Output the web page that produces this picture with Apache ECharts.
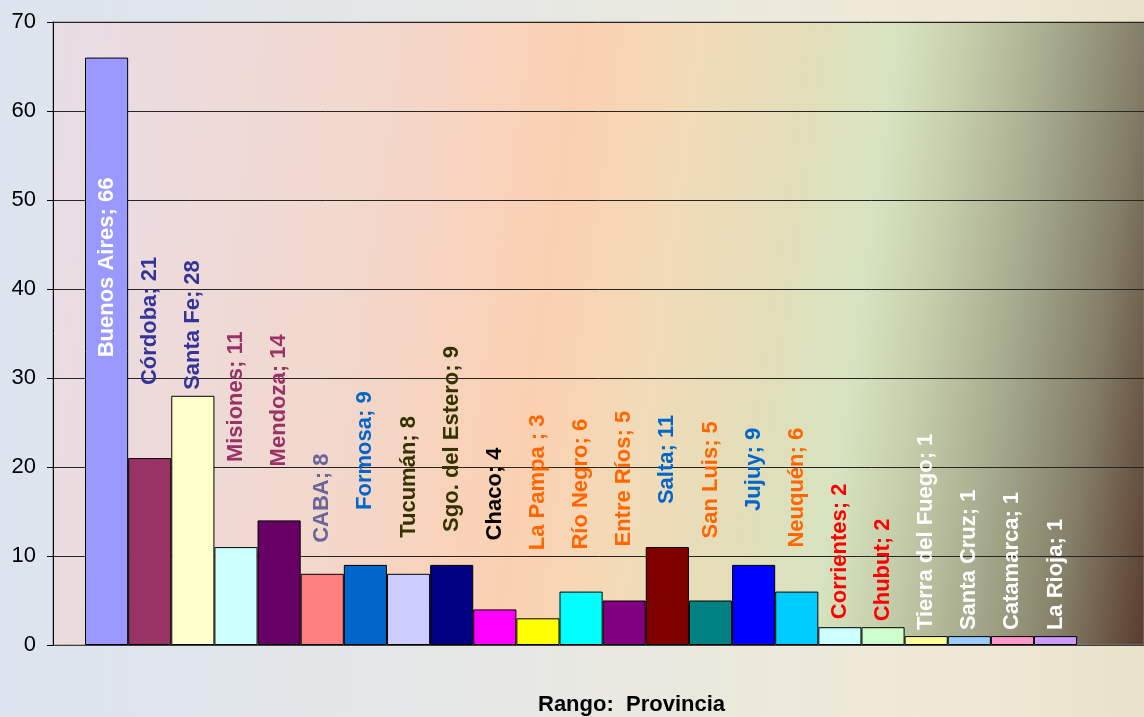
<!DOCTYPE html>
<html>
<head>
<meta charset="utf-8">
<script src="https://cdn.jsdelivr.net/npm/echarts@6/dist/echarts.min.js"></script>
<style>
  html, body { margin: 0; padding: 0; }
  #chart {
    width: 1144px; height: 717px;
    background: linear-gradient(to right, #dde4ef 0%, #e5e7e6 40%, #ece9dc 65%, #efe8d5 85%, #e9e1c9 100%);
  }
</style>
</head>
<body>
<div id="chart"></div>
<script>
// ---- data ----
const provinces = ['Buenos Aires', 'Córdoba', 'Santa Fe', 'Misiones', 'Mendoza', 'CABA', 'Formosa', 'Tucumán',
  'Sgo. del Estero', 'Chaco', 'La Pampa ', 'Río Negro', 'Entre Ríos', 'Salta', 'San Luis', 'Jujuy', 'Neuquén',
  'Corrientes', 'Chubut', 'Tierra del Fuego', 'Santa Cruz', 'Catamarca', 'La Rioja'];
const counts = [66, 21, 28, 11, 14, 8, 9, 8, 9, 4, 3, 6, 5, 11, 5, 9, 6, 2, 2, 1, 1, 1, 1];
const axisTitle = 'Rango:  Provincia';

// ---- styles / layout ----
const barColors = ['#9999FF', '#993366', '#FFFFCC', '#CCFFFF', '#660066', '#FF8080', '#0066CC', '#CCCCFF',
  '#000080', '#FF00FF', '#FFFF00', '#00FFFF', '#800080', '#800000', '#008080', '#0000FF', '#00CCFF',
  '#CCFFFF', '#CCFFCC', '#FFFF99', '#99CCFF', '#FF99CC', '#CC99FF'];
const labelColors = ['#FFFFFF', '#333399', '#333399', '#993366', '#993366', '#666699', '#0066CC', '#333300',
  '#333300', '#000000', '#FF6600', '#FF6600', '#FF6600', '#0066CC', '#FF6600', '#0066CC', '#FF6600',
  '#FF0000', '#FF0000', '#FFFFFF', '#FFFFFF', '#FFFFFF', '#FFFFFF'];
// gap (px) between bar top and label start (first label sits inside its bar)
const labelGaps = [120, 73, 6, 85, 54, 31, 55, 36, 33, 69, 68, 42, 54, 43, 62, 54, 44, 8, 6, 6, 6, 6, 6];

const FONT = 'Liberation Sans, Arial, sans-serif';
const chart = echarts.init(document.getElementById('chart'));

const plotGradient = new echarts.graphic.LinearGradient(53, 22, 1209, 184, [
  { offset: 0, color: '#e8dde6' },
  { offset: 0.294, color: '#f3d7cb' },
  { offset: 0.451, color: '#fbd0b1' },
  { offset: 0.548, color: '#f2dbb8' },
  { offset: 0.633, color: '#e4ddb8' },
  { offset: 0.718, color: '#d7e3c0' },
  { offset: 0.769, color: '#c8d1ae' },
  { offset: 0.845, color: '#a9ad8f' },
  { offset: 0.925, color: '#847f68' },
  { offset: 1, color: '#5a3b2f' }
], true);

const barData = counts.map((v, i) => ({
  name: provinces[i],
  value: [i, v],
  itemStyle: { color: barColors[i] },
  label: i === 0
    ? { position: 'insideTop', align: 'right', distance: labelGaps[i], color: labelColors[i] }
    : { position: 'top', align: 'left', distance: labelGaps[i], color: labelColors[i] }
}));

const option = {
  backgroundColor: 'transparent',
  animation: false,
  title: {
    text: axisTitle,
    left: 538,
    top: 694,
    padding: 0,
    textStyle: { fontFamily: FONT, fontSize: 22, fontWeight: 'bold', color: '#000' }
  },
  grid: {
    left: 53, right: 0, top: 22, bottom: 72,
    show: true,
    backgroundColor: plotGradient,
    borderColor: '#808080',
    borderWidth: 1
  },
  xAxis: {
    type: 'value',
    min: -1.242,
    max: 24.05,
    axisLine: { show: true, onZero: false, lineStyle: { color: '#404040', width: 1 } },
    axisTick: { show: false },
    axisLabel: { show: false },
    splitLine: { show: false }
  },
  yAxis: {
    type: 'value',
    min: 0, max: 70, interval: 10,
    axisLine: { show: true, onZero: false, lineStyle: { color: '#000', width: 1 } },
    axisTick: { show: true, length: 6, lineStyle: { color: '#000' } },
    axisLabel: { fontFamily: FONT, fontSize: 22, color: '#000', margin: 17 },
    splitLine: { show: true, lineStyle: { color: '#262626', width: 1 } }
  },
  series: [{
    type: 'bar',
    data: barData,
    barCategoryGap: '0%',
    itemStyle: { borderColor: '#000', borderWidth: 1 },
    label: {
      show: true,
      rotate: 90,
      verticalAlign: 'middle',
      formatter: p => p.name + '; ' + p.value[1],
      fontFamily: FONT,
      fontSize: 22,
      fontWeight: 'bold'
    }
  }]
};
chart.setOption(option);
</script>
</body>
</html>
